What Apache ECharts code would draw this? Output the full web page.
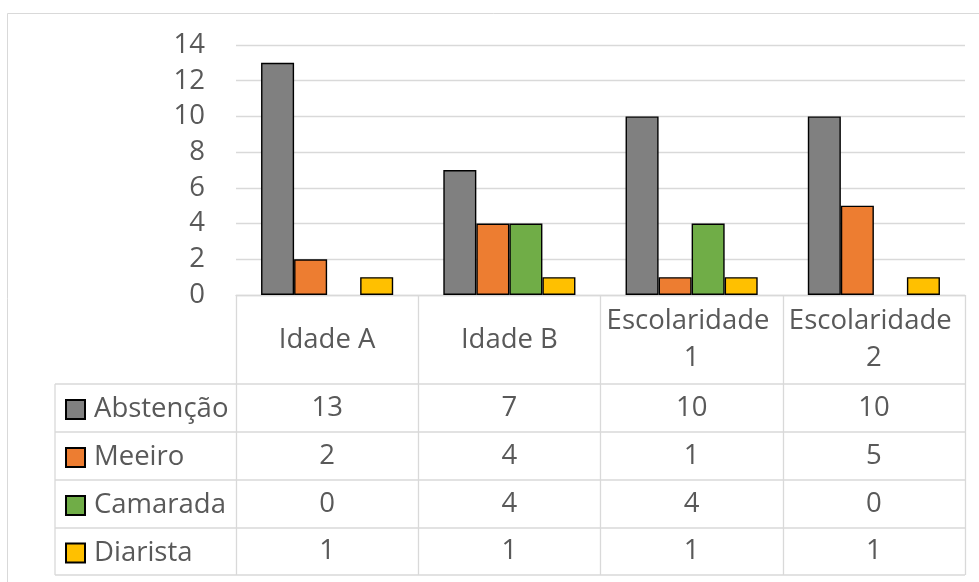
<!DOCTYPE html>
<html>
<head>
<meta charset="utf-8">
<script src="https://cdn.jsdelivr.net/npm/echarts@6/dist/echarts.min.js"></script>
<style>
  html, body { margin: 0; padding: 0; background: #fff; }
  #chart { width: 979px; height: 582px; }
</style>
</head>
<body>
<div id="chart"></div>
<script>
// Categories and series values
const categories = ['Idade A', 'Idade B', 'Escolaridade 1', 'Escolaridade 2'];
const seriesNames = ['Abstenção', 'Meeiro', 'Camarada', 'Diarista'];
const abstencao = [13, 7, 10, 10];
const meeiro = [2, 4, 1, 5];
const camarada = [0, 4, 4, 0];
const diarista = [1, 1, 1, 1];
const seriesColors = ['#808080', '#ED7D31', '#70AD47', '#FFC000'];
// Value axis ticks
const yMin = 0, yMax = 14, yStep = 2;

const seriesValues = [abstencao, meeiro, camarada, diarista];

const FONT = '"Open Sans", "Noto Sans", sans-serif';
const TEXT = '#595959';
const LINE = '#D9D9D9';
const FS = 27.5;

// Layout of the data table beneath the plot
const plotLeft = 236, plotRight = 965, axisY = 295;
const tableLeft = 55;
const rowLines = [384, 432, 480, 528, 575];
const tableBottom = rowLines[rowLines.length - 1];

const chart = echarts.init(document.getElementById('chart'), null, { renderer: 'canvas' });

// Header axis (category names) + one label row per series (values)
const xAxes = [{
  type: 'category',
  data: categories,
  gridIndex: 0,
  position: 'bottom',
  axisLine: { show: true, lineStyle: { color: LINE, width: 1.3 } },
  axisTick: { show: true, interval: 0, length: tableBottom - axisY, lineStyle: { color: LINE, width: 1.3 } },
  axisLabel: {
    interval: 0, margin: 45, verticalAlign: 'middle', align: 'center',
    width: 172, overflow: 'break', lineHeight: 37,
    fontFamily: FONT, fontSize: FS, color: TEXT
  },
  splitLine: { show: false }
}];
seriesValues.forEach((vals, i) => {
  const center = (rowLines[i] + rowLines[i + 1]) / 2;
  xAxes.push({
    type: 'category',
    data: vals.map(String),
    gridIndex: 0,
    position: 'bottom',
    offset: center - axisY,
    axisLine: { show: false },
    axisTick: { show: false },
    splitLine: { show: false },
    axisLabel: { interval: 0, margin: 0, verticalAlign: 'middle', fontFamily: FONT, fontSize: FS, color: TEXT }
  });
});

// One legend entry per table row
const legends = seriesNames.map((name, i) => {
  const center = (rowLines[i] + rowLines[i + 1]) / 2;
  return {
    data: [name],
    orient: 'vertical',
    left: 65,
    top: center - 12.5,
    padding: 0,
    itemWidth: 19,
    itemHeight: 19,
    icon: 'rect',
    textStyle: { fontFamily: FONT, fontSize: FS, color: TEXT, lineHeight: 20, padding: [0, 0, 0, 4] }
  };
});

// Table grid lines and chart frame
const graphics = [{
  type: 'rect',
  shape: { x: 7.5, y: 13.5, width: 1100, height: 700 },
  style: { fill: 'none', stroke: LINE, lineWidth: 1 },
  silent: true
}];
rowLines.forEach(y => {
  graphics.push({
    type: 'line',
    shape: { x1: tableLeft, y1: y, x2: plotRight, y2: y },
    style: { stroke: LINE, lineWidth: 1.3 },
    silent: true
  });
});
graphics.push({
  type: 'line',
  shape: { x1: tableLeft, y1: rowLines[0], x2: tableLeft, y2: tableBottom },
  style: { stroke: LINE, lineWidth: 1.3 },
  silent: true
});

const option = {
  animation: false,
  backgroundColor: '#fff',
  textStyle: { fontFamily: FONT },
  grid: { left: plotLeft, right: 979 - plotRight, top: 45, bottom: 582 - axisY, containLabel: false },
  legend: legends,
  xAxis: xAxes,
  yAxis: {
    type: 'value',
    min: yMin, max: yMax, interval: yStep,
    axisLine: { show: false },
    axisTick: { show: false },
    axisLabel: { margin: 31, fontFamily: FONT, fontSize: FS, color: TEXT },
    splitLine: { lineStyle: { color: LINE, width: 1.3 } }
  },
  series: seriesNames.map((name, i) => ({
    name,
    type: 'bar',
    xAxisIndex: 0,
    barGap: '0%',
    barCategoryGap: '27.5%',
    itemStyle: { color: seriesColors[i], borderColor: '#000', borderWidth: 1.4 },
    data: seriesValues[i].map(v => v === 0 ? { value: v, itemStyle: { borderWidth: 0 } } : v)
  })),
  graphic: graphics
};

chart.setOption(option);
</script>
</body>
</html>
